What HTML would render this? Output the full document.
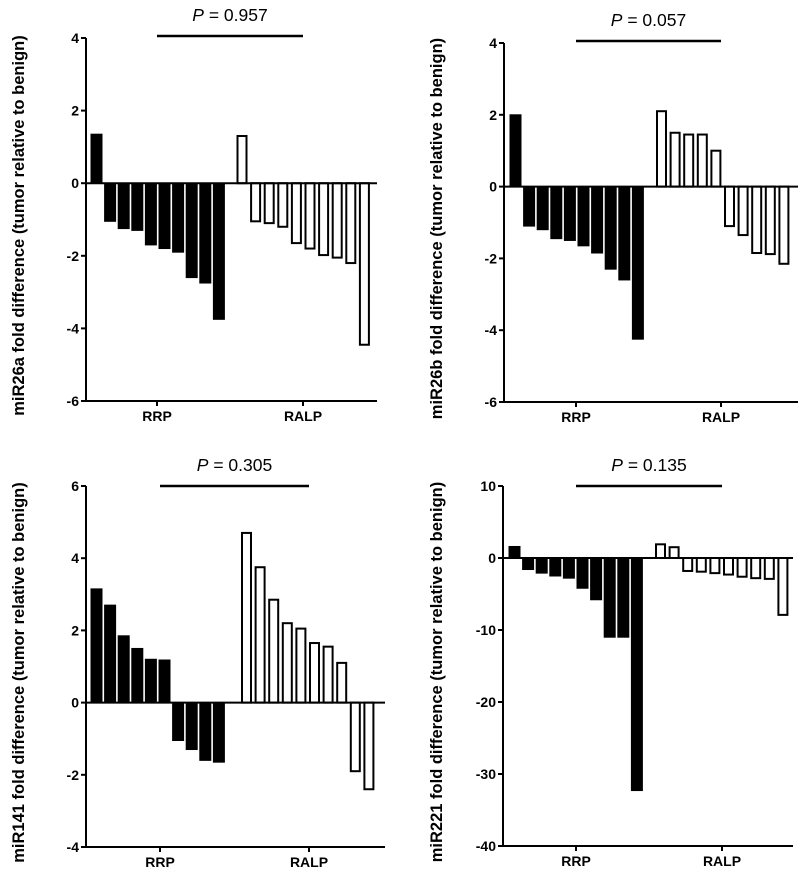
<!DOCTYPE html>
<html><head><meta charset="utf-8"><style>
html,body{margin:0;padding:0;background:#fff;}
svg{display:block;font-family:"Liberation Sans",Arial,sans-serif;}
</style></head><body>
<svg id="fig" width="800" height="876" viewBox="0 0 800 876" xmlns="http://www.w3.org/2000/svg"></svg>
<script>
// Panel data
const categories = ["RRP","RALP"];
const mir26aRRP = [1.35,-1.05,-1.25,-1.3,-1.7,-1.8,-1.9,-2.6,-2.75,-3.75];
const mir26aRALP = [1.3,-1.05,-1.1,-1.2,-1.65,-1.8,-1.98,-2.05,-2.2,-4.45];
const mir26bRRP = [2.0,-1.1,-1.2,-1.45,-1.5,-1.65,-1.85,-2.3,-2.6,-4.25];
const mir26bRALP = [2.1,1.5,1.45,1.45,1.0,-1.1,-1.35,-1.85,-1.88,-2.15];
const mir141RRP = [3.15,2.7,1.85,1.5,1.2,1.18,-1.05,-1.3,-1.6,-1.65];
const mir141RALP = [4.7,3.75,2.85,2.2,2.05,1.65,1.55,1.1,-1.9,-2.4];
const mir221RRP = [1.6,-1.6,-2.1,-2.5,-2.8,-4.2,-5.8,-11,-11,-32.3];
const mir221RALP = [1.9,1.5,-1.8,-1.9,-2.1,-2.3,-2.6,-2.8,-2.9,-7.9];
const ticks26 = [4,2,0,-2,-4,-6];
const ticks141 = [6,4,2,0,-2,-4];
const ticks221 = [10,0,-10,-20,-30,-40];
const pValues = ["0.957","0.057","0.305","0.135"];
const yTitles = ["miR26a","miR26b","miR141","miR221"];

const NS="http://www.w3.org/2000/svg";
const svg=document.getElementById('fig');
function mk(tag,attrs,parent){const e=document.createElementNS(NS,tag);for(const k in attrs)e.setAttribute(k,attrs[k]);(parent||svg).appendChild(e);return e;}

function panel(p){
  const g=mk('g',{});
  
  
  const yMax=p.ticks[0], yMin=p.ticks[p.ticks.length-1];
  const y=v=>p.yTop+(yMax-v)/(yMax-yMin)*(p.yBot-p.yTop);
  const step=13.6, bw=11;
  p.rrp.forEach((v,i)=>{
    const x=p.blackStart+i*step;
    const r=mk('rect',{x:x,y:Math.min(y(v),y(0)),width:bw,height:Math.abs(y(v)-y(0)),fill:'#000',stroke:'#000','stroke-width':1},g);
    
    
  });
  p.ralp.forEach((v,i)=>{
    const x=p.whiteStart+i*step;
    const r=mk('rect',{x:x+1,y:Math.min(y(v),y(0)),width:bw-2,height:Math.abs(y(v)-y(0)),fill:'#fff',stroke:'#000','stroke-width':2},g);
    
    
  });
  const z=mk('line',{x1:p.axisX,x2:p.axisEnd,y1:y(0),y2:y(0),stroke:'#000','stroke-width':2},g);
  
  
  const ya=mk('line',{x1:p.axisX,x2:p.axisX,y1:p.yTop,y2:p.yBot+1,stroke:'#000','stroke-width':2},g);
  
  
  const xa=mk('line',{x1:p.axisX-1,x2:p.axisEnd,y1:p.yBot,y2:p.yBot,stroke:'#000','stroke-width':2},g);
  
  
  p.ticks.forEach(t=>{
    mk('line',{x1:p.axisX-5,x2:p.axisX,y1:y(t),y2:y(t),stroke:'#000','stroke-width':2},g);
    const tx=mk('text',{x:p.axisX-7,y:y(t)+5,'text-anchor':'end','font-size':14,'font-weight':'bold'},g);
    tx.textContent=t;
    
    
  });
  [p.rrpX,p.ralpX].forEach((cx,i)=>{
    mk('line',{x1:cx,x2:cx,y1:p.yBot,y2:p.yBot+5,stroke:'#000','stroke-width':2},g);
    const tx=mk('text',{x:cx,y:p.yBot+20,'text-anchor':'middle','font-size':14,'font-weight':'bold'},g);
    tx.textContent=categories[i];
    
    
  });
  const sl=mk('line',{x1:p.rrpX,x2:p.ralpX,y1:p.sigY,y2:p.sigY,stroke:'#000','stroke-width':2.5},g);
  
  
  const pt=mk('text',{x:(p.rrpX+p.ralpX)/2,y:p.sigY-15,'text-anchor':'middle','font-size':17.5},g);
  pt.innerHTML='<tspan font-style="italic">P</tspan> = '+p.pv;
  
  
  const cy=(p.yTop+p.yBot)/2+6;
  const yt=mk('text',{x:p.titleX,y:cy,'text-anchor':'middle','font-size':16.5,'font-weight':'bold',transform:`rotate(-90 ${p.titleX} ${cy})`},g);
  yt.textContent=p.title+' fold difference (tumor relative to benign)';
  
  
}

panel({name:'panel-mir26a',rrp:mir26aRRP,ralp:mir26aRALP,ticks:ticks26,yTop:38,yBot:401,axisX:86,axisEnd:377,blackStart:91,whiteStart:236.5,rrpX:157,ralpX:303,sigY:36,pv:pValues[0],title:yTitles[0],titleX:24});
panel({name:'panel-mir26b',rrp:mir26bRRP,ralp:mir26bRALP,ticks:ticks26,yTop:43,yBot:402,axisX:504,axisEnd:798,blackStart:510,whiteStart:656,rrpX:576,ralpX:721,sigY:41,pv:pValues[1],title:yTitles[1],titleX:442});
panel({name:'panel-mir141',rrp:mir141RRP,ralp:mir141RALP,ticks:ticks141,yTop:486,yBot:847,axisX:86,axisEnd:385,blackStart:91,whiteStart:241,rrpX:160,ralpX:309,sigY:486,pv:pValues[2],title:yTitles[2],titleX:24});
panel({name:'panel-mir221',rrp:mir221RRP,ralp:mir221RALP,ticks:ticks221,yTop:486,yBot:846,axisX:503,axisEnd:793,blackStart:509,whiteStart:655,rrpX:576,ralpX:722,sigY:486,pv:pValues[3],title:yTitles[3],titleX:442});
</script>
</body></html>
